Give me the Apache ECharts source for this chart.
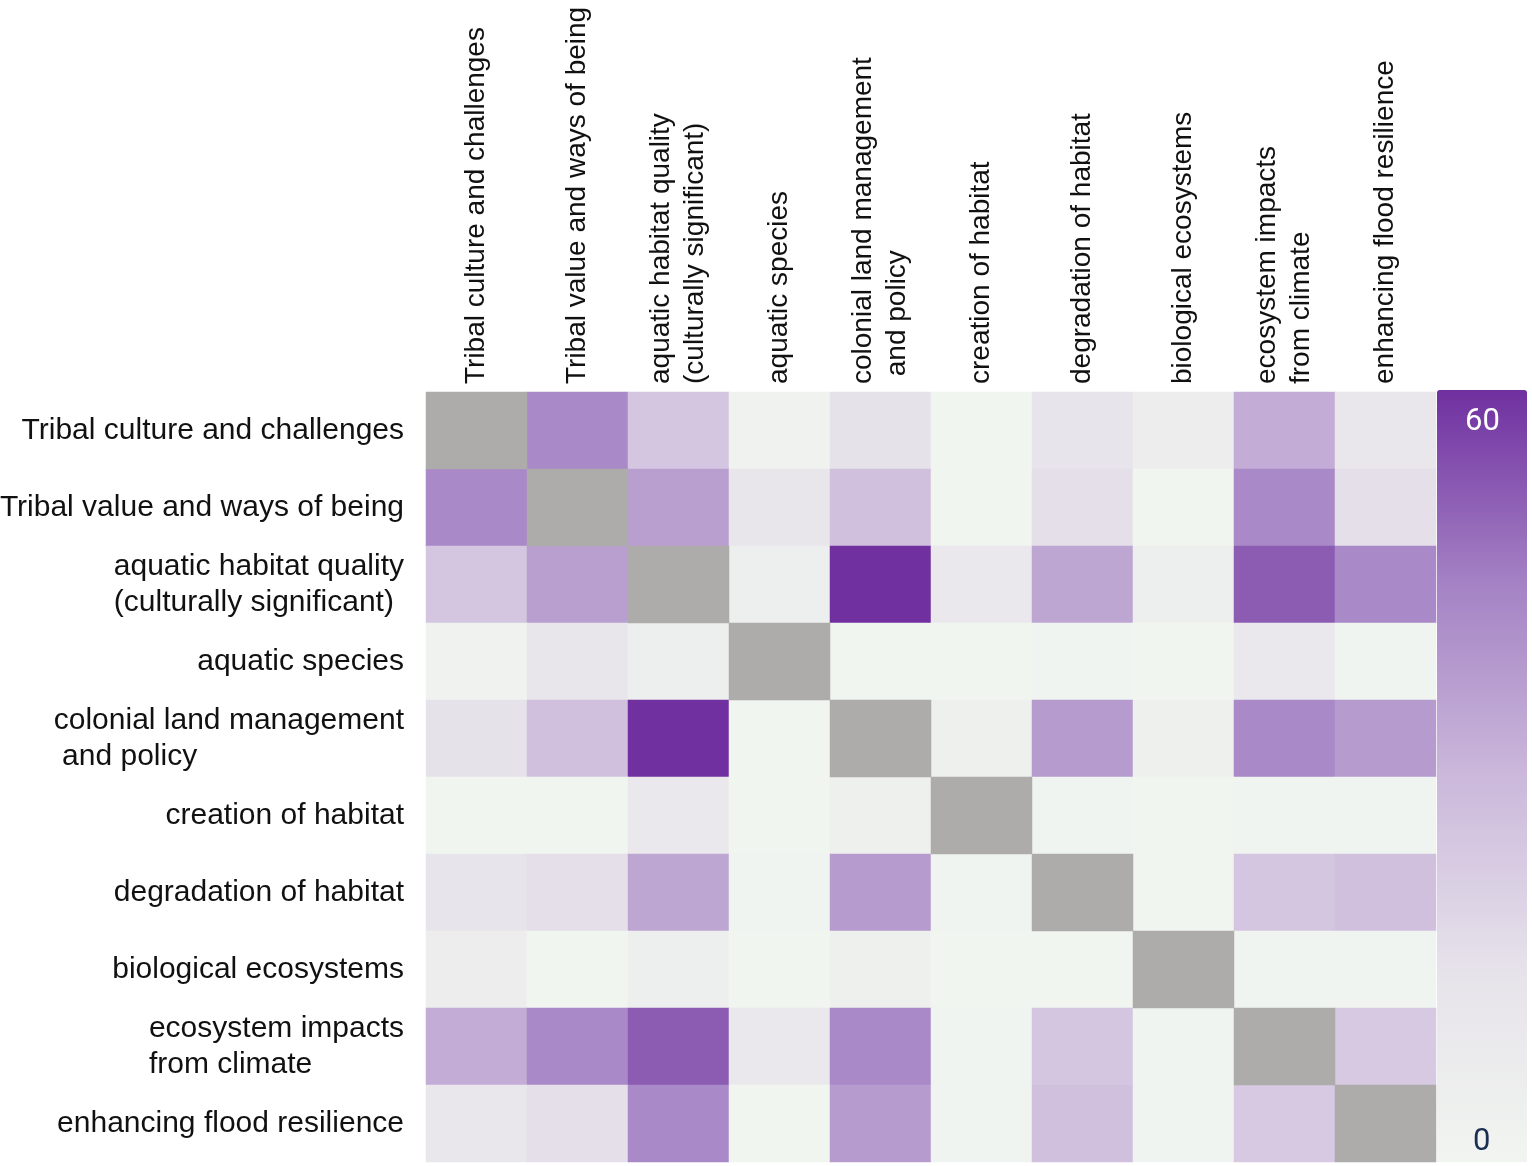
<!DOCTYPE html>
<html><head><meta charset="utf-8">
<script src="https://cdn.jsdelivr.net/npm/echarts@6/dist/echarts.min.js"></script>
<style>html,body{margin:0;padding:0;background:#fff}#c{width:1532px;height:1166px}</style>
</head><body><div id="c"></div>
<script>
const categories = [
  'Tribal culture and challenges',
  'Tribal value and ways of being',
  'aquatic habitat quality (culturally significant)',
  'aquatic species',
  'colonial land management and policy',
  'creation of habitat',
  'degradation of habitat',
  'biological ecosystems',
  'ecosystem impacts from climate',
  'enhancing flood resilience'
];
const xTickLabels = [
  'Tribal culture and challenges',
  'Tribal value and ways of being',
  'aquatic habitat quality\n(culturally significant)',
  'aquatic species',
  'colonial land management\n and policy',
  'creation of habitat',
  'degradation of habitat',
  'biological ecosystems',
  'ecosystem impacts\nfrom climate',
  'enhancing flood resilience'
];
const yTickLabels = [
  'Tribal culture and challenges',
  'Tribal value and ways of being',
  'aquatic habitat quality\n(culturally significant)',
  'aquatic species',
  'colonial land management\n and policy',
  'creation of habitat',
  'degradation of habitat',
  'biological ecosystems',
  'ecosystem impacts\nfrom climate',
  'enhancing flood resilience'
];
// co-occurrence values, row = y category, column = x category; null = diagonal
const row0 = [null, 43, 25, 2, 15, 0, 13, 6, 33, 11];
const row1 = [43, null, 37, 12, 27, 0, 16, 0, 43, 16];
const row2 = [25, 37, null, 5, 60, 10, 35, 5, 52, 43];
const row3 = [2, 12, 5, null, 0, 0, 1, 0, 10, 1];
const row4 = [15, 27, 60, 0, null, 4, 38, 4, 43, 38];
const row5 = [0, 0, 10, 0, 4, null, 1, 0, 1, 1];
const row6 = [13, 16, 35, 1, 38, 1, null, 0, 25, 27];
const row7 = [6, 0, 5, 0, 4, 0, 0, null, 1, 1];
const row8 = [33, 43, 52, 10, 43, 1, 25, 1, null, 24];
const row9 = [11, 16, 43, 0, 38, 1, 27, 1, 24, null];
const rows = [row0, row1, row2, row3, row4, row5, row6, row7, row8, row9];
const minValue = 0, maxValue = 60;

const FONT = '"Liberation Sans", Arial, sans-serif';
const cellData = [], diagData = [];
rows.forEach((r, yi) => r.forEach((v, xi) => {
  if (v === null) diagData.push([xi, yi, 1]);
  else cellData.push([xi, yi, v]);
}));

const chart = echarts.init(document.getElementById('c'), null, {renderer: 'canvas'});
chart.setOption({
  animation: false,
  backgroundColor: '#ffffff',
  grid: {left: 426, top: 392, width: 1010, height: 770, containLabel: false, outerBoundsMode: 'none'},
  xAxis: {
    type: 'category', position: 'top', data: categories,
    axisLine: {show: false}, axisTick: {show: false}, splitArea: {show: false},
    axisLabel: {
      interval: 0, rotate: -90, margin: 8, color: '#111', fontSize: 28,
      fontFamily: FONT, lineHeight: 34,
      formatter: (v, i) => xTickLabels[i]
    }
  },
  yAxis: {
    type: 'category', inverse: true, data: categories,
    axisLine: {show: false}, axisTick: {show: false},
    axisLabel: {
      interval: 0, margin: 22,
      formatter: (v, i) => yTickLabels[i].split('\n').map(s => '{a|' + s + '}').join('\n'),
      rich: {a: {fontSize: 30, fontFamily: FONT, color: '#111', lineHeight: 36, align: 'left'}}
    }
  },
  visualMap: {
    type: 'continuous', min: minValue, max: maxValue, seriesIndex: 0,
    orient: 'vertical', left: 1437, top: 390, itemWidth: 90, itemHeight: 772,
    padding: 0, calculable: false, text: null, showLabel: false,
    inRange: {color: ['#f1f5f0', '#e6e2ea', '#cbb8db', '#a482c4', '#7030a0']}
  },
  graphic: [
    {type: 'text', z: 100, left: 1465, top: 407, style: {text: String(maxValue), fill: '#ffffff', font: '31px "Liberation Sans Narrow", "Roboto", sans-serif'}},
    {type: 'text', z: 100, left: 1473, top: 1127, style: {text: String(minValue), fill: '#1c2d52', font: '31px "Liberation Sans Narrow", "Roboto", sans-serif'}}
  ],
  series: [
    {type: 'heatmap', data: cellData, emphasis: {disabled: true}, itemStyle: {borderWidth: 0}},
    {type: 'heatmap', data: diagData, emphasis: {disabled: true}, itemStyle: {color: '#aeabab', borderWidth: 0}}
  ]
});
</script></body></html>
